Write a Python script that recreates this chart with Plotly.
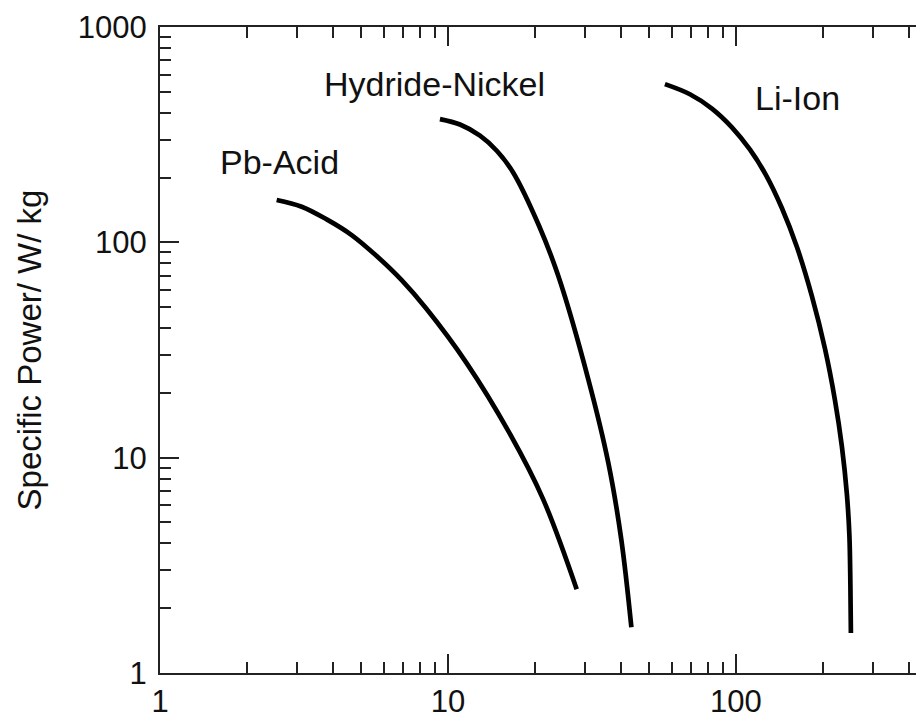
import numpy as np
import plotly.graph_objects as go

# Data (log-log: x = specific energy, y = specific power W/kg)
pb_x = [2.542, 3.105, 3.792, 4.630, 5.655, 6.906, 8.433, 11.61, 16.42, 21.38, 27.99]
pb_y = [157.3, 146.4, 127.8, 108.1, 86.37, 66.72, 48.99, 27.49, 12.89, 6.439, 2.451]

nimh_x = [9.380, 11.01, 12.92, 14.80, 16.82, 20.73, 24.17, 30.73, 36.06, 40.01, 43.35]
nimh_y = [373.4, 352.4, 312.8, 265.6, 211.7, 119.1, 69.7, 23.06, 9.45, 4.155, 1.631]

li_x = [56.69, 69.22, 82.54, 96.85, 111.8, 127.2, 144.4, 162.9, 183.6, 203.7, 220.7,
        233.4, 242.9, 247.8, 249.8, 250.8]
li_y = [543.0, 487.4, 418.2, 342.2, 269.9, 205.2, 144.3, 95.1, 56.25, 32.20, 18.57,
        11.25, 6.758, 4.361, 2.567, 1.535]

labels = ["Pb-Acid", "Hydride-Nickel", "Li-Ion"]
label_x = [2.61, 8.98, 163.6]
label_y = [235, 543, 468]

major_vals = [1, 10, 100, 1000]
major_text = ["1", "10", "100", "1000"]

FONT = "Liberation Sans, Arial, sans-serif"

fig = go.Figure()
for xs, ys in [(pb_x, pb_y), (nimh_x, nimh_y), (li_x, li_y)]:
    fig.add_trace(go.Scatter(x=xs, y=ys, mode="lines",
                             line=dict(color="black", width=4.7, shape="spline", smoothing=1.0),
                             showlegend=False, hoverinfo="skip"))

for t, lx, ly in zip(labels, label_x, label_y):
    fig.add_annotation(x=np.log10(lx), y=np.log10(ly), text=t, showarrow=False,
                       font=dict(family=FONT, size=34, color="#111"),
                       xanchor="center", yanchor="middle")

minor_x = [m * d for d in (1, 10, 100) for m in range(2, 10)]
minor_y = [m * d for d in (1, 10, 100) for m in range(2, 10)]

axis_common = dict(
    type="log", showgrid=False, zeroline=False,
    showline=True, linecolor="#222", linewidth=2,
    ticks="inside", ticklen=19, tickwidth=2, tickcolor="#222",
    tickfont=dict(family=FONT, size=31, color="#111"),
)

fig.update_xaxes(**axis_common, range=[0, np.log10(450)], mirror="ticks",
                 tickvals=major_vals, ticktext=major_text,
                 minor=dict(tickvals=minor_x, ticks="inside", ticklen=11,
                            tickwidth=2, tickcolor="#222", showgrid=False))
fig.update_yaxes(**axis_common, range=[0, 3], mirror=False,
                 tickvals=major_vals, ticktext=major_text, ticklabelstandoff=5,
                 minor=dict(tickvals=minor_y, ticks="inside", ticklen=11,
                            tickwidth=2, tickcolor="#222", showgrid=False),
                 title=dict(text="Specific Power/ W/ kg",
                            font=dict(family=FONT, size=33, color="#111"),
                            standoff=26))

# the page adds an 8px body margin, so the figure is sized/offset to compensate
fig.update_layout(width=916, height=711,
                  margin=dict(l=152, r=0, t=19, b=46, autoexpand=False),
                  paper_bgcolor="white", plot_bgcolor="white")

fig.write_html("out.html")
